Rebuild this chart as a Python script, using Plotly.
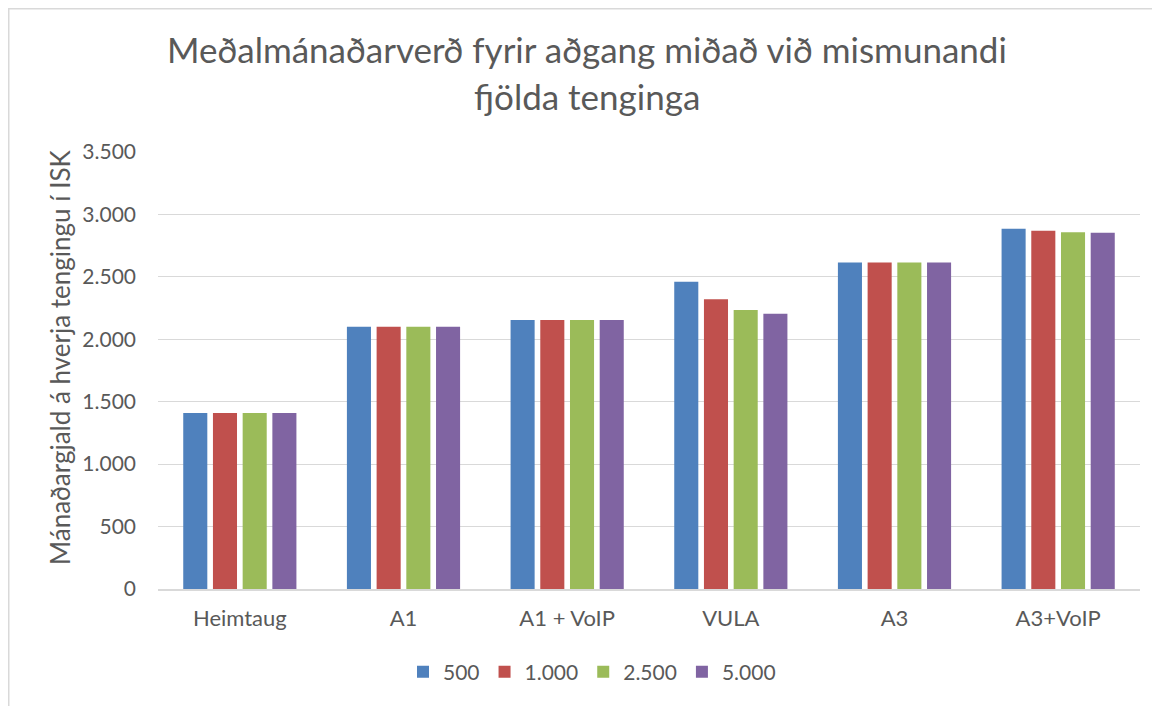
import plotly.graph_objects as go

categories = ["Heimtaug", "A1", "A1 + VoIP", "VULA", "A3", "A3+VoIP"]
series_names = ["500", "1.000", "2.500", "5.000"]
vals_500 = [1410, 2100, 2155, 2460, 2615, 2885]
vals_1000 = [1410, 2100, 2155, 2320, 2615, 2870]
vals_2500 = [1410, 2100, 2155, 2235, 2615, 2858]
vals_5000 = [1410, 2100, 2155, 2205, 2615, 2853]
colors = ["#4F81BD", "#C0504D", "#9BBB59", "#8064A2"]

title_line1 = "Meðalmánaðarverð fyrir aðgang miðað við mismunandi"
title_line2 = "fjölda tenginga"
y_title = "Mánaðargjald á hverja tengingu í ISK"
tick_vals = [0, 500, 1000, 1500, 2000, 2500, 3000, 3500]
tick_text = ["0", "500", "1.000", "1.500", "2.000", "2.500", "3.000", "3.500"]

FONT = "Lato"
TXT = "#595959"
GRID = "#d9d9d9"

fig = go.Figure()
for name, vals, col in zip(series_names, [vals_500, vals_1000, vals_2500, vals_5000], colors):
    fig.add_trace(go.Bar(x=categories, y=vals, name=name, marker=dict(color=col, line=dict(width=0))))

# figure-pixel geometry (page is offset by the 8px body margin)
W, H = 1160, 706
L, T = 150, 144
pw, ph = 982, 437
R = W - L - pw
B = H - T - ph


def px_x(p):
    return (p - L) / pw


def px_y(p):
    return (T + ph - p) / ph


fig.update_layout(
    width=W, height=H,
    margin=dict(l=L, r=R, t=T, b=B, autoexpand=False),
    paper_bgcolor="white", plot_bgcolor="white",
    barmode="group", bargap=0.274, bargroupgap=0.19,
    font=dict(family=FONT, color=TXT, size=21),
    showlegend=True,
    legend=dict(orientation="h", x=px_x(584), xanchor="center", y=px_y(664), yanchor="middle",
                font=dict(size=21, color=TXT, family=FONT), traceorder="normal"),
    xaxis=dict(showgrid=False, showline=True, linecolor=GRID, linewidth=1.5, ticks="",
               ticklabelstandoff=9,
               tickfont=dict(size=22, color=TXT, family=FONT)),
    yaxis=dict(range=[0, 3500], tickvals=tick_vals, ticktext=tick_text, showgrid=True,
               gridcolor=GRID, gridwidth=1.3, zeroline=False, showline=False, ticks="",
               ticklabelstandoff=21,
               tickfont=dict(size=21, color=TXT, family=FONT)),
    shapes=[dict(type="rect", xref="paper", yref="paper", x0=px_x(0.75), x1=px_x(1250),
                 y0=px_y(800), y1=px_y(0.75), line=dict(color=GRID, width=1.5), layer="below")],
    annotations=[
        dict(text=title_line1, xref="paper", yref="paper", x=px_x(579), y=px_y(41),
             xanchor="center", yanchor="middle", showarrow=False,
             font=dict(size=35, color=TXT, family=FONT)),
        dict(text=title_line2, xref="paper", yref="paper", x=px_x(579), y=px_y(88),
             xanchor="center", yanchor="middle", showarrow=False,
             font=dict(size=35, color=TXT, family=FONT)),
        dict(text=y_title, xref="paper", yref="paper", x=px_x(52), y=px_y(349),
             xanchor="center", yanchor="middle", showarrow=False, textangle=-90,
             font=dict(size=26, color=TXT, family=FONT)),
    ],
)

fig.write_html("out.html")
